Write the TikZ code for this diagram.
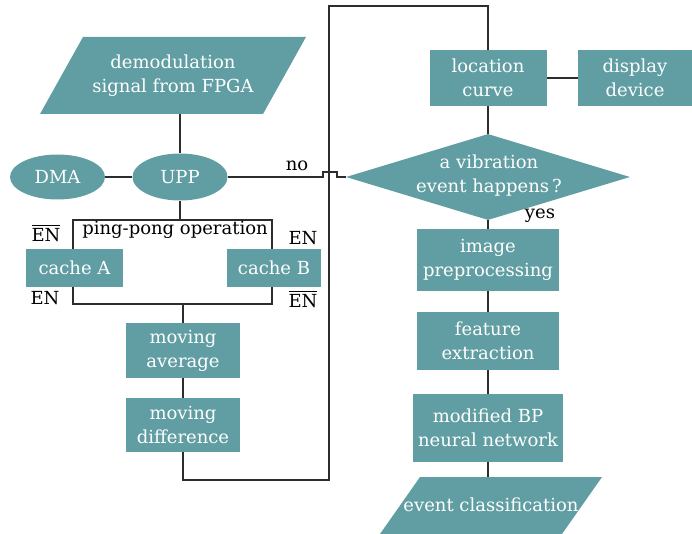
\documentclass[tikz,border=0pt]{standalone}
\usepackage{fontspec}
\setmainfont{DejaVu Serif}
\usetikzlibrary{shapes.geometric}
\definecolor{tealbox}{RGB}{96,158,163}
\definecolor{lncol}{RGB}{45,45,45}
\newcommand{\myovl}[1]{\vbox{\hrule height 1pt\kern 2.5pt\hbox{#1}}}
\begin{document}
\begin{tikzpicture}[x=1pt,y=-1pt,
  box/.style={fill=tealbox, text=white, align=center, inner sep=0pt, font=\fontsize{18}{24}\selectfont},
  lbl/.style={text=black, inner sep=0pt, font=\fontsize{18}{24}\selectfont},
  conn/.style={draw=lncol, line width=1.2pt}]
\useasboundingbox (0,0) rectangle (692,534);

% ping-pong frame (behind caches)
\node[draw=lncol, line width=1.2pt, minimum width=199pt, minimum height=84pt, inner sep=0pt] (pp) at (172.5,262) {};
\node[lbl] (ppl) at (175,230) {ping-pong operation};

% input parallelogram
\fill[tealbox] (40,114) -- (263,114) -- (306,37) -- (83,37) -- cycle;
\node[box, fill=none] (demod) at (173,76) {demodulation\\signal from FPGA};
\coordinate (demodb) at (180,114);

% left column
\node[box, ellipse, minimum width=95pt, minimum height=45pt] (dma) at (57.5,177) {DMA};
\node[box, ellipse, minimum width=95pt, minimum height=47pt] (upp) at (180,177) {UPP};
\node[box, minimum width=97pt, minimum height=38pt] (ca) at (74.5,268) {cache A};
\node[box, minimum width=94pt, minimum height=38pt] (cb) at (274,268) {cache B};
\node[box, minimum width=114pt, minimum height=55pt] (mavg) at (183,350.5) {moving\\average};
\node[box, minimum width=114pt, minimum height=54pt] (mdiff) at (183,425) {moving\\difference};

% EN labels
\node[lbl] (en1) at (46,233) {\myovl{EN}};
\node[lbl] (en2) at (45,298) {EN};
\node[lbl] (en3) at (303,238) {EN};
\node[lbl] (en4) at (303,299) {\myovl{EN}};

% right column
\node[box, minimum width=117pt, minimum height=56pt] (loc) at (488,78) {location\\curve};
\node[box, minimum width=114pt, minimum height=56pt] (disp) at (635,78) {display\\device};
\node[diamond, fill=tealbox, minimum width=284pt, minimum height=86pt, inner sep=0pt] (dec) at (488,177) {};
\node[box, fill=none] (dect) at (489,176) {a vibration\\event happens\,?};
\node[box, minimum width=142pt, minimum height=62pt] (pre) at (488,260) {image\\preprocessing};
\node[box, minimum width=142pt, minimum height=58pt] (feat) at (488,341) {feature\\extraction};
\node[box, minimum width=150pt, minimum height=68pt] (bp) at (488,428) {modified BP\\neural network};
\fill[tealbox] (420,477) -- (602,477) -- (562,534) -- (380,534) -- cycle;
\node[box, fill=none] (evt) at (491,505) {event classification};
\coordinate (evtt) at (488,477);

\node[lbl] (no) at (297,166) {no};
\node[lbl] (yes) at (540,216) {yes};

% connector helper points
\coordinate (c1) at (329,480);
\coordinate (c2) at (329,6);
\coordinate (j1) at (323,177);

% connectors
\draw[conn] (demodb) -- (upp.north);
\draw[conn] (dma) -- (upp);
\draw[conn] (upp.south) -- (upp.south |- pp.north);
\draw[conn] (mavg.north |- pp.south) -- (mavg.north);
\draw[conn] (mavg) -- (mdiff);
\draw[conn] (mdiff.south) |- (c1) -- (c2) -| (loc.north);
\draw[conn] (loc) -- (disp);
\draw[conn] (loc.south) -- (dec.north);
\draw[conn] (upp.east) -- (j1) -- ++(0,-5) -- ++(14,0) -- ++(0,5) -- (dec.west);
\draw[conn] (dec.south) -- (pre.north);
\draw[conn] (pre) -- (feat);
\draw[conn] (feat) -- (bp);
\draw[conn] (bp.south) -- (evtt);
\end{tikzpicture}
\end{document}
